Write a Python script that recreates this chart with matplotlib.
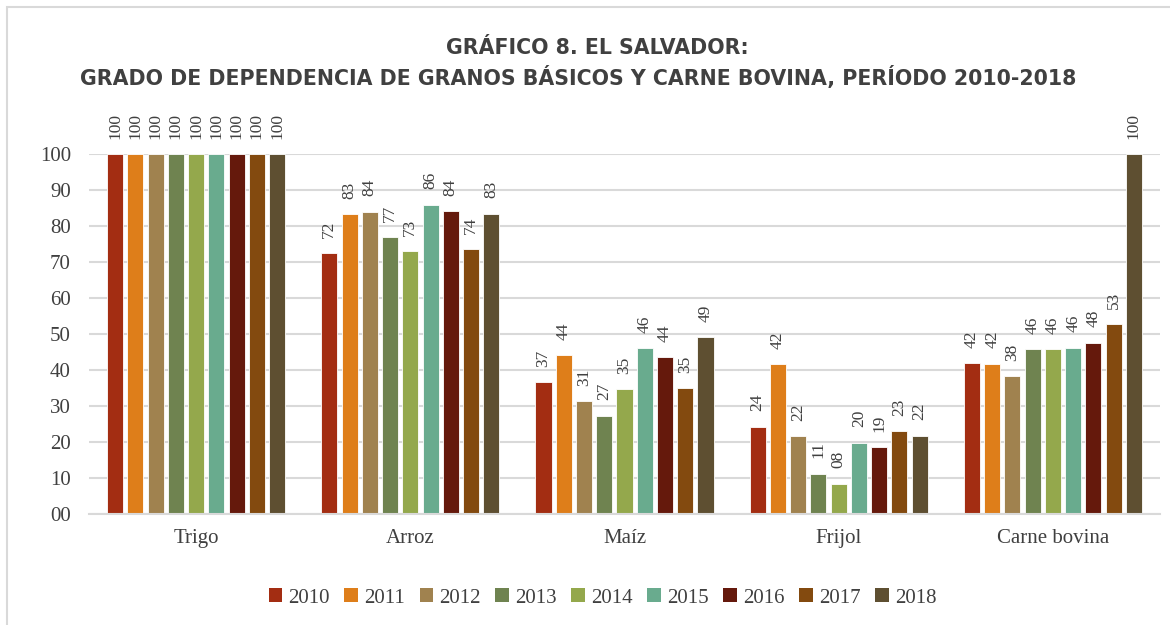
import numpy as np
import matplotlib.pyplot as plt
from matplotlib.patches import Patch, Rectangle

categories = ['Trigo', 'Arroz', 'Maíz', 'Frijol', 'Carne bovina']
years = ['2010', '2011', '2012', '2013', '2014', '2015', '2016', '2017', '2018']

# values per year, one entry per category
v2010 = [100, 72.4, 36.7, 24.3, 41.9]
v2011 = [100, 83.2, 44.1, 41.6, 41.8]
v2012 = [100, 84.0, 31.3, 21.6, 38.3]
v2013 = [100, 76.9, 27.3, 11.2, 45.8]
v2014 = [100, 73.0, 34.7, 8.4, 45.7]
v2015 = [100, 85.9, 46.1, 19.8, 46.2]
v2016 = [100, 84.1, 43.6, 18.6, 47.6]
v2017 = [100, 73.6, 35.0, 23.0, 52.8]
v2018 = [100, 83.4, 49.2, 21.8, 100]
series = [v2010, v2011, v2012, v2013, v2014, v2015, v2016, v2017, v2018]

colors = ['#A32D12', '#DE7E1A', '#A0824F', '#6F8350', '#94A84C',
          '#69AB8E', '#65190C', '#834A0F', '#5E4F31']

serif = 'Liberation Serif'
txt = '#404040'

fig = plt.figure(figsize=(11.7, 6.25), dpi=100)
ax = fig.add_axes([89 / 1170, 1 - 514 / 625, (1160 - 89) / 1170, (514 - 154) / 625])

x = np.arange(len(categories))
pitch = 0.0945
width = 0.075
for i, vals in enumerate(series):
    pos = x + (i - 4) * pitch
    ax.bar(pos, vals, width, color=colors[i], edgecolor='white', linewidth=0.6, zorder=3)
    for px, v in zip(pos, vals):
        ax.annotate('%02d' % round(v), (px, v), xytext=(0, 11), textcoords='offset points',
                    rotation=90, ha='center', va='bottom', fontsize=12.5, family=serif,
                    color=txt)

ax.set_xlim(-0.5, len(categories) - 0.5)
ax.set_ylim(0, 100)
ax.set_yticks(range(0, 101, 10))
ax.set_yticklabels(['%02d' % t for t in range(0, 101, 10)])
ax.set_xticks(x)
ax.set_xticklabels(categories)
ax.tick_params(length=0, labelsize=15, labelcolor=txt, pad=13)
ax.tick_params(axis='x', pad=11)
for lab in ax.get_xticklabels() + ax.get_yticklabels():
    lab.set_family(serif)
ax.grid(axis='y', color='#D9D9D9', linewidth=1.5, zorder=0)
for s in ['top', 'right', 'left']:
    ax.spines[s].set_visible(False)
ax.spines['bottom'].set_color('#D9D9D9')
ax.spines['bottom'].set_linewidth(1.5)
ax.spines['bottom'].set_zorder(4)

fig.text(597 / 1170, 1 - 48 / 625, 'GRÁFICO 8. EL SALVADOR:', ha='center', va='center',
         fontsize=14.8, fontweight='bold', color=txt)
fig.text(578 / 1170, 1 - 77 / 625,
         'GRADO DE DEPENDENCIA DE GRANOS BÁSICOS Y CARNE BOVINA, PERÍODO 2010-2018',
         ha='center', va='center', fontsize=14.8, fontweight='bold', color=txt)

handles = [Patch(facecolor=c, label=y) for c, y in zip(colors, years)]
leg = fig.legend(handles=handles, loc='center', bbox_to_anchor=(0.515, 1 - 598 / 625),
                 ncol=9, frameon=False, handlelength=0.65, handleheight=0.65,
                 handletextpad=0.3, columnspacing=0.7,
                 prop={'family': serif, 'size': 15})
for t in leg.get_texts():
    t.set_color(txt)

# outer chart border
fig.patches.append(Rectangle((7 / 1170, -0.1), 1.2, 1 - 7 / 625 + 0.1, transform=fig.transFigure,
                             fill=False, edgecolor='#D9D9D9', linewidth=1.5))

fig.savefig('out.png', dpi=100)
